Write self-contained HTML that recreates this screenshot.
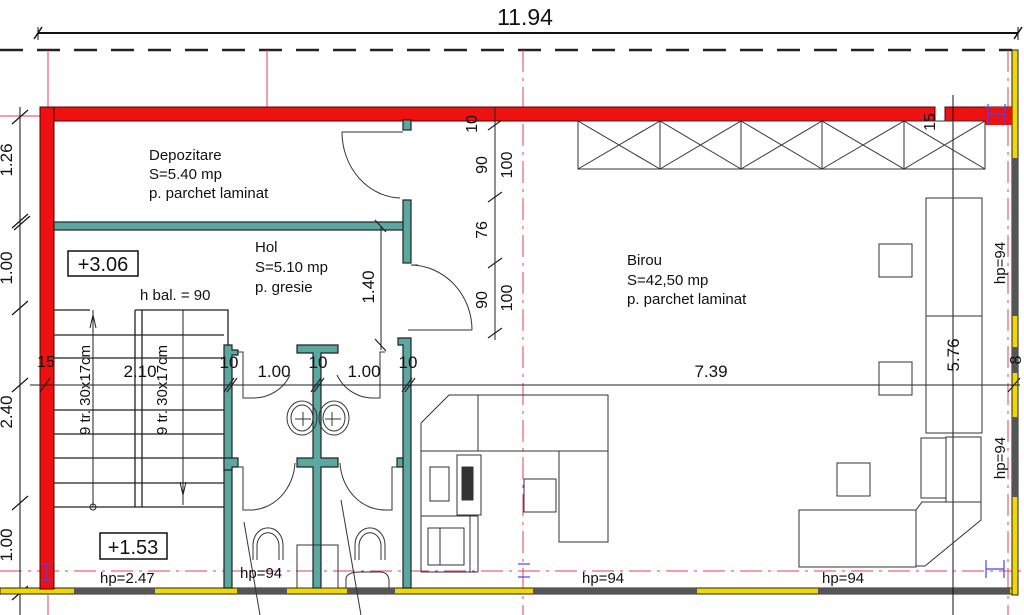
<!DOCTYPE html>
<html><head><meta charset="utf-8"><style>
html,body{margin:0;padding:0;background:#fff;width:1024px;height:615px;overflow:hidden}
svg{display:block}
text{font-family:"Liberation Sans",Arial,sans-serif;fill:#111}
</style></head><body>
<svg width="1024" height="615" viewBox="0 0 1024 615" xmlns="http://www.w3.org/2000/svg">
<!-- top dimension -->
<text x="525" y="25" font-size="23" text-anchor="middle">11.94</text>
<line x1="38" y1="33" x2="1018" y2="33" stroke="#111" stroke-width="2"/>
<line x1="34" y1="39" x2="42" y2="27" stroke="#111" stroke-width="1.5"/>
<line x1="1014" y1="39" x2="1022" y2="27" stroke="#111" stroke-width="1.5"/>
<line x1="38" y1="27" x2="38" y2="40" stroke="#111"/>
<line x1="1018" y1="27" x2="1018" y2="40" stroke="#111"/>
<line x1="0" y1="50" x2="1012" y2="50" stroke="#222" stroke-width="2.5" stroke-dasharray="23,14"/>

<!-- red guide lines -->
<g stroke="#e0405a" stroke-width="1">
<line x1="48" y1="50" x2="48" y2="107"/>
<line x1="48" y1="595" x2="48" y2="615"/>
<line x1="267" y1="50" x2="267" y2="107"/>
<line x1="523" y1="50" x2="523" y2="615" stroke-dasharray="22,6,3,6"/>
<line x1="1008" y1="50" x2="1008" y2="615" stroke-dasharray="22,6,3,6"/>
<line x1="0" y1="571" x2="1024" y2="571" stroke-dasharray="22,6,3,6"/>
<line x1="0" y1="116" x2="40" y2="116"/>
</g>

<!-- left dimension -->
<line x1="20" y1="107" x2="20" y2="615" stroke="#111" stroke-width="1"/>
<g stroke="#111" stroke-width="1.2">
<line x1="12" y1="124" x2="28" y2="110"/><line x1="12" y1="228" x2="28" y2="214"/><line x1="14" y1="230" x2="30" y2="216"/>
<line x1="12" y1="315" x2="28" y2="301"/><line x1="12" y1="392" x2="28" y2="378"/><line x1="12" y1="510" x2="28" y2="496"/>
<line x1="12" y1="600" x2="28" y2="586"/>
</g>
<g font-size="17">
<text transform="translate(12,160) rotate(-90)" text-anchor="middle">1.26</text>
<text transform="translate(12,268) rotate(-90)" text-anchor="middle">1.00</text>
<text transform="translate(12,412) rotate(-90)" text-anchor="middle">2.40</text>
<text transform="translate(12,545) rotate(-90)" text-anchor="middle">1.00</text>
</g>

<!-- bottom wall -->
<rect x="0" y="588" width="1012" height="6" fill="#f0d800" stroke="#222" stroke-width="1"/>
<g fill="#555">
<rect x="74" y="588" width="81" height="6"/><rect x="237" y="588" width="50" height="6"/>
<rect x="347" y="588" width="48" height="6"/><rect x="533" y="588" width="164" height="6"/>
<rect x="818" y="588" width="192" height="6"/>
</g>
<!-- right wall -->
<rect x="1012" y="50" width="6" height="545" fill="#f0d800" stroke="#222" stroke-width="1"/>
<g fill="#555">
<rect x="1012" y="158" width="6" height="158"/><rect x="1012" y="347" width="6" height="26"/>
<rect x="1012" y="417" width="6" height="80"/>
</g>

<!-- red walls -->
<rect x="40" y="107" width="895" height="14" fill="#ee1111" stroke="#500" stroke-width="1"/>
<rect x="945" y="107" width="67" height="14" fill="#ee1111" stroke="#500" stroke-width="1"/>
<rect x="985" y="107" width="27" height="18" fill="#ee1111"/>
<rect x="40" y="107" width="14" height="482" fill="#ee1111" stroke="#500" stroke-width="1"/>
<g stroke="#44f" stroke-width="1.2" fill="none">
<line x1="988" y1="104" x2="988" y2="124"/><line x1="1005" y1="104" x2="1005" y2="124"/><line x1="988" y1="114" x2="1005" y2="114"/>
<line x1="42" y1="564" x2="52" y2="564"/><line x1="42" y1="580" x2="52" y2="580"/><line x1="47" y1="564" x2="47" y2="580"/>
<line x1="518" y1="564" x2="530" y2="564"/><line x1="518" y1="577" x2="530" y2="577"/>
<line x1="986" y1="560" x2="986" y2="578"/><line x1="1004" y1="560" x2="1004" y2="578"/><line x1="986" y1="569" x2="1004" y2="569"/>
</g>

<!-- teal walls -->
<g fill="#5aa8a0" stroke="#222" stroke-width="1.2">
<rect x="54" y="222" width="352" height="8"/>
<rect x="403" y="200" width="8" height="63"/>
<rect x="403" y="120" width="8" height="10"/>
<path d="M403 588 V345 H398 V338 H411 V588 Z"/>
<path d="M224 588 V345 H232 V350 H238 V355 H232 V588 Z"/>
<path d="M297 345 H338 V353 H321 V458 H338 V467 H321 V588 H313 V467 H297 V458 H313 V353 H297 Z"/>
<path d="M224 458 H238 V467 H232 V470 H224 Z"/>
<path d="M403 458 H397 V467 H403 Z"/>
</g>

<!-- doors -->
<g stroke="#333" stroke-width="1" fill="none">
<line x1="342" y1="132" x2="403" y2="132"/>
<path d="M342 132 A60 66 0 0 0 400 198"/>
<line x1="411" y1="265" x2="418" y2="265"/>
<line x1="408" y1="330" x2="472" y2="330"/>
<path d="M411 265 A62 65 0 0 1 472 330"/>
<!-- WC top doors -->
<path d="M238 352 H243 V398 H253"/>
<path d="M253 398 A40 40 0 0 0 290 375"/>
<path d="M385 352 H380 V398 H370"/>
<path d="M370 398 A40 40 0 0 1 337 375"/>
<!-- WC inner doors -->
<path d="M238 467 H243 V510 H250"/>
<path d="M250 510 A45 50 0 0 0 295 463"/>
<path d="M397 467 H392 V510 H385"/>
<path d="M385 510 A45 50 0 0 1 340 463"/>
<!-- sinks -->
<ellipse cx="302" cy="418" rx="15" ry="17"/><ellipse cx="302" cy="418" rx="11" ry="13"/>
<ellipse cx="334" cy="418" rx="15" ry="17"/><ellipse cx="334" cy="418" rx="11" ry="13"/>
<line x1="295" y1="419" x2="311" y2="419"/><line x1="303" y1="412" x2="303" y2="426"/>
<line x1="325" y1="419" x2="341" y2="419"/><line x1="332" y1="412" x2="332" y2="426"/>
<!-- toilets -->
<path d="M253 560 V545 A14 16 0 0 1 283 545 V560"/>
<path d="M257 560 V546 A10 12 0 0 1 279 546 V560"/>
<path d="M355 560 V545 A14 16 0 0 1 385 545 V560"/>
<path d="M359 560 V546 A10 12 0 0 1 381 546 V560"/>
<path d="M346 588 V578 Q348 572 360 572 H380 Q388 572 389 580 V588"/>
<rect x="297" y="545" width="41" height="43"/>
<line x1="244" y1="522" x2="260" y2="615"/><line x1="341" y1="500" x2="361" y2="615"/>
<line x1="330" y1="588" x2="346" y2="400" stroke-width="0"/>
</g>

<!-- stairs -->
<g stroke="#222" stroke-width="1.3" fill="none">
<path d="M54 335 H224"/>
<path d="M54 310 H90"/>
<path d="M135 310 V507 M142 310 V507 M135 310 H228 V345"/>
<path d="M54 358 H224 M54 410 H224 M54 434 H224 M54 458 H224 M54 483 H224 M54 507 H224"/>
<line x1="93" y1="310" x2="93" y2="507" stroke-width="1"/>
<line x1="183" y1="310" x2="183" y2="505" stroke-width="1"/>
<circle cx="93" cy="507" r="3" stroke-width="1"/>
<path d="M180 482 L183 495 L186 482" stroke-width="1"/>
<path d="M90 328 L93 315 L96 328" stroke-width="1"/>
</g>
<g font-size="15">
<text transform="translate(90,390) rotate(-90)" text-anchor="middle">9 tr. 30x17cm</text>
<text transform="translate(167,390) rotate(-90)" text-anchor="middle">9 tr. 30x17cm</text>
</g>

<!-- horizontal dim at 385 -->
<line x1="30" y1="385" x2="1020" y2="385" stroke="#222" stroke-width="1"/>
<g stroke="#222" stroke-width="1.2">
<line x1="40" y1="392" x2="50" y2="378"/><line x1="224" y1="392" x2="234" y2="378"/><line x1="227" y1="392" x2="237" y2="378"/>
<line x1="311" y1="392" x2="321" y2="378"/><line x1="314" y1="392" x2="324" y2="378"/>
<line x1="402" y1="392" x2="412" y2="378"/><line x1="405" y1="392" x2="415" y2="378"/>
<line x1="1008" y1="392" x2="1020" y2="378"/>
</g>
<g font-size="17">
<text x="46" y="367" text-anchor="middle" font-size="16">15</text>
<text x="140" y="377" text-anchor="middle">2.10</text>
<text x="229" y="368" text-anchor="middle">10</text>
<text x="274" y="377" text-anchor="middle">1.00</text>
<text x="318" y="368" text-anchor="middle">10</text>
<text x="364" y="377" text-anchor="middle">1.00</text>
<text x="408" y="368" text-anchor="middle">10</text>
<text x="711" y="377" text-anchor="middle">7.39</text>
</g>

<!-- vertical dims middle -->
<line x1="495" y1="107" x2="495" y2="340" stroke="#222" stroke-width="1"/>
<g stroke="#222" stroke-width="1.2">
<line x1="488" y1="130" x2="502" y2="120"/><line x1="488" y1="202" x2="502" y2="192"/>
<line x1="488" y1="268" x2="502" y2="258"/><line x1="488" y1="338" x2="502" y2="328"/>
<line x1="375" y1="220" x2="386" y2="232"/><line x1="375" y1="339" x2="386" y2="351"/>
</g>
<line x1="381" y1="226" x2="381" y2="350" stroke="#222" stroke-width="1"/>
<g font-size="16">
<text transform="translate(477,124) rotate(-90)" text-anchor="middle">10</text>
<text transform="translate(487,165) rotate(-90)" text-anchor="middle">90</text>
<text transform="translate(512,165) rotate(-90)" text-anchor="middle">100</text>
<text transform="translate(487,230) rotate(-90)" text-anchor="middle">76</text>
<text transform="translate(487,300) rotate(-90)" text-anchor="middle">90</text>
<text transform="translate(512,298) rotate(-90)" text-anchor="middle">100</text>
<text transform="translate(374,287) rotate(-90)" text-anchor="middle" font-size="17">1.40</text>
<text transform="translate(935,122) rotate(-90)" text-anchor="middle">15</text>
<text transform="translate(959,355) rotate(-90)" text-anchor="middle" font-size="17">5.76</text>
<text transform="translate(1021,360) rotate(-90)" text-anchor="middle">8</text>
<text transform="translate(1005,263) rotate(-90)" text-anchor="middle" font-size="15">hp=94</text>
<text transform="translate(1005,458) rotate(-90)" text-anchor="middle" font-size="15">hp=94</text>
</g>
<line x1="953" y1="95" x2="953" y2="615" stroke="#111" stroke-width="1"/>

<!-- top cabinets -->
<g stroke="#333" stroke-width="1" fill="none">
<rect x="578" y="121" width="407" height="48"/>
<line x1="660" y1="121" x2="660" y2="169"/><line x1="741" y1="121" x2="741" y2="169"/>
<line x1="822" y1="121" x2="822" y2="169"/><line x1="904" y1="121" x2="904" y2="169"/>
<path d="M578 121 L660 169 M660 121 L578 169 M660 121 L741 169 M741 121 L660 169 M741 121 L822 169 M822 121 L741 169 M822 121 L904 169 M904 121 L822 169 M904 121 L985 169 M985 121 L904 169"/>
<!-- right furniture -->
<rect x="926" y="198" width="56" height="235"/>
<line x1="926" y1="316" x2="982" y2="316"/>
<rect x="921" y="438" width="25" height="60"/>
<rect x="946" y="437" width="35" height="65"/>
<path d="M799 510 H916 V567 H799 Z"/>
<path d="M916 510 L922 502 H981 V520 L925 566 H916"/>
<rect x="879" y="244" width="33" height="33"/>
<rect x="879" y="362" width="33" height="33"/>
<rect x="837" y="463" width="33" height="33"/>
<!-- left desk -->
<path d="M421 423 L449 395 H608 V451"/>
<line x1="421" y1="423" x2="421" y2="572"/>
<line x1="421" y1="451" x2="608" y2="451"/>
<line x1="478" y1="395" x2="478" y2="451"/>
<rect x="559" y="451" width="49" height="91"/>
<rect x="524" y="479" width="32" height="33"/>
<rect x="457" y="455" width="24" height="60"/>
<rect x="462" y="467" width="11" height="33" fill="#333"/>
<rect x="430" y="467" width="19" height="34"/>
<line x1="421" y1="516" x2="478" y2="516"/>
<rect x="428" y="528" width="36" height="37"/>
<line x1="440" y1="528" x2="440" y2="565"/>
<line x1="421" y1="572" x2="478" y2="572"/>
<line x1="470" y1="516" x2="470" y2="572"/><line x1="478" y1="516" x2="478" y2="572"/>
</g>

<!-- level boxes -->
<rect x="68" y="251" width="70" height="25" fill="#fff" stroke="#111" stroke-width="1.5"/>
<text x="103" y="271" font-size="20" text-anchor="middle">+3.06</text>
<rect x="100" y="533" width="67" height="26" fill="#fff" stroke="#111" stroke-width="1.5"/>
<text x="133" y="554" font-size="20" text-anchor="middle">+1.53</text>

<!-- room labels -->
<g font-size="15">
<text x="149" y="160">Depozitare</text>
<text x="149" y="179">S=5.40 mp</text>
<text x="149" y="198">p. parchet laminat</text>
<text x="255" y="252">Hol</text>
<text x="255" y="272">S=5.10 mp</text>
<text x="255" y="292">p. gresie</text>
<text x="627" y="265">Birou</text>
<text x="627" y="285">S=42,50 mp</text>
<text x="627" y="304">p. parchet laminat</text>
<text x="140" y="300">h bal. = 90</text>
<text x="100" y="583">hp=2.47</text>
<text x="240" y="578">hp=94</text>
<text x="582" y="583">hp=94</text>
<text x="822" y="583">hp=94</text>
</g>
</svg>
</body></html>
